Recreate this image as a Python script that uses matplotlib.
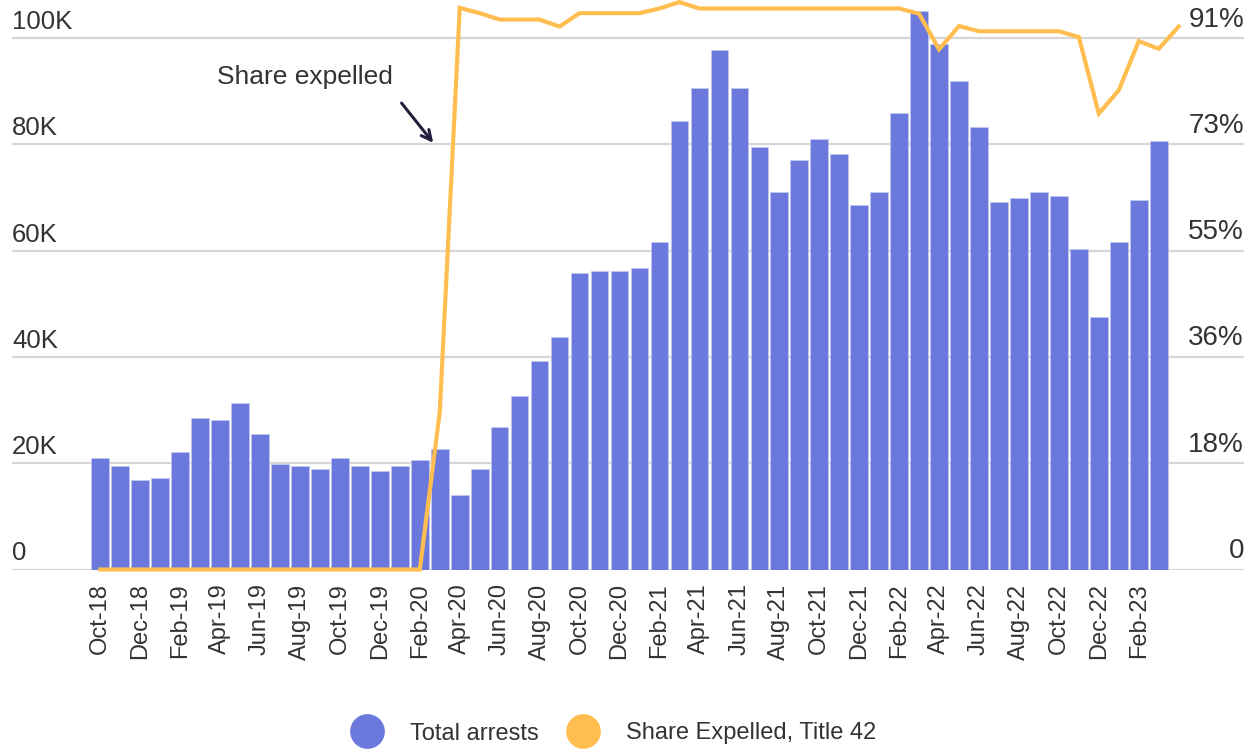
import numpy as np
import pandas as pd
import matplotlib.pyplot as plt
from matplotlib.lines import Line2D

plt.rcParams['font.family'] = ['Liberation Sans', 'DejaVu Sans']

# monthly labels, Oct-18 .. Apr-23 (bars stop at Mar-23)
months = pd.date_range('2018-10-01', periods=55, freq='MS').strftime('%b-%y').tolist()

arrests = [21.0, 19.4, 16.9, 17.2, 22.2, 28.5, 28.1, 31.3, 25.6, 19.8, 19.4, 18.9,
           21.0, 19.4, 18.5, 19.4, 20.6, 22.7, 14.0, 18.9, 26.8, 32.6, 39.2, 43.8,
           55.8, 56.2, 56.2, 56.7, 61.6, 84.4, 90.7, 97.7, 90.7, 79.5, 71.1, 77.0,
           81.1, 78.2, 68.7, 71.1, 86.0, 105.1, 98.9, 91.9, 83.2, 69.1, 69.9, 71.1,
           70.4, 60.4, 47.5, 61.6, 69.5, 80.6]
arrests = [a * 1000 for a in arrests]

share_expelled = [0] * 17 + [
    0.27, 0.962, 0.953, 0.942, 0.942, 0.942, 0.930,
    0.953, 0.953, 0.953, 0.953, 0.961, 0.972, 0.961,
    0.961, 0.961, 0.961, 0.961, 0.961, 0.961, 0.961, 0.961, 0.961, 0.961,
    0.952, 0.891, 0.931, 0.922, 0.922, 0.922, 0.922, 0.922,
    0.912, 0.781, 0.821, 0.905, 0.892, 0.930]

left_ticks = [0, 20000, 40000, 60000, 80000, 100000]
left_labels = ['0', '20K', '40K', '60K', '80K', '100K']
right_labels = ['0', '18%', '36%', '55%', '73%', '91%']
right_max = 0.91

bar_color = '#6A79DB'
line_color = '#FFBE4F'
text_color = '#333333'

fig = plt.figure(figsize=(12.53, 7.5), dpi=100)
ax = fig.add_axes([12 / 1253, 180.5 / 750, 1232 / 1253, 569.5 / 750])

x = np.arange(len(arrests))
ax.bar(x, arrests, width=0.88, color=bar_color, edgecolor='#c3c9f2', linewidth=0.5, zorder=2)

ytop = 107200
ax.set_ylim(0, ytop)
ax.set_xlim(-4.42, 57.27)
ax.set_yticks(left_ticks)
ax.yaxis.grid(True, color='#d6d6d6', linewidth=1.6, zorder=0)
ax.set_axisbelow(True)
ax.tick_params(axis='y', length=0, labelleft=False)
for s in ax.spines.values():
    s.set_visible(False)

ax.set_xticks(x[::2])
ax.set_xticklabels(months[:len(arrests):2], rotation=90, fontsize=17, color=text_color)
ax.tick_params(axis='x', length=0, pad=10)

for v, lab in zip(left_ticks, left_labels):
    ax.annotate(lab, xy=(0, v), xycoords=('axes fraction', 'data'),
                xytext=(0, 6.5), textcoords='offset points',
                ha='left', va='baseline', fontsize=18.5, color=text_color)
for v, lab in zip(left_ticks, right_labels):
    ax.annotate(lab, xy=(1, v), xycoords=('axes fraction', 'data'),
                xytext=(0, 8.3), textcoords='offset points',
                ha='right', va='baseline', fontsize=20, color=text_color)

ax2 = ax.twinx()
ax2.set_ylim(0, right_max * ytop / 100000)
ax2.plot(np.arange(len(share_expelled)), share_expelled, color=line_color,
         linewidth=3, zorder=3, clip_on=False, solid_joinstyle='miter')
ax2.axis('off')

ax.annotate('', xy=(16.76, 79900), xytext=(15.0, 88200),
            arrowprops=dict(arrowstyle='->,head_length=0.7,head_width=0.35',
                            color='#231f3d', linewidth=2.2))
ax.text(10.25, 92700, 'Share expelled', ha='center', va='center',
        fontsize=19, color=text_color)

handles = [Line2D([], [], linestyle='none', marker='o', markersize=25,
                  markerfacecolor=bar_color, markeredgecolor='none'),
           Line2D([], [], linestyle='none', marker='o', markersize=25,
                  markerfacecolor=line_color, markeredgecolor='none')]
fig.legend(handles, ['Total arrests', 'Share Expelled, Title 42'], loc='center',
           bbox_to_anchor=(0.490, 0.022), ncol=2, frameon=False, fontsize=17,
           handlelength=1.3, handletextpad=1.2, columnspacing=1.2,
           labelcolor=text_color)

fig.savefig('out.png', dpi=100)
